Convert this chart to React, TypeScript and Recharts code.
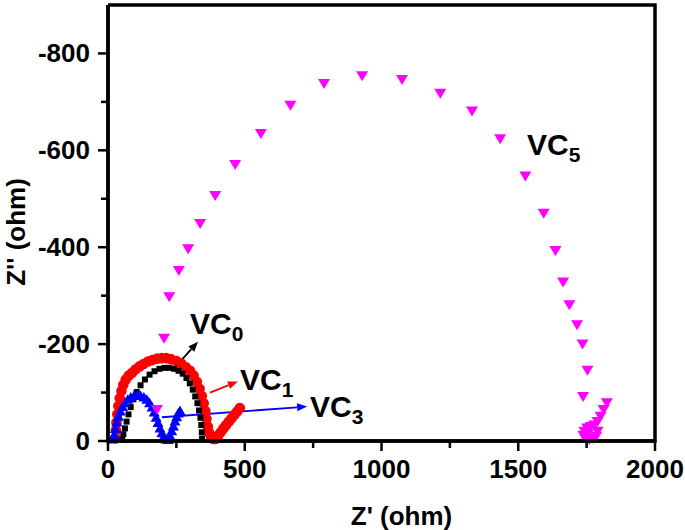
import React from "react";
import {
  ScatterChart,
  Scatter,
  XAxis,
  YAxis,
  ReferenceLine,
  ReferenceDot,
} from "recharts";

const FONT = "'Liberation Sans', Arial, Helvetica, sans-serif";
const MARGIN = { top: 5, right: 30, bottom: 0, left: 0 };

// axis ticks (minor + major)
const xTicks = [0, 250, 500, 750, 1000, 1250, 1500, 1750, 2000];
const yTicks = [-800, -700, -600, -500, -400, -300, -200, -100, 0];
const xRange = [0, 2000];
const yRange = [-900, 0];

// Z' (ohm), Z'' (ohm) pairs
const vc0: [number, number][] = [
  [52, -3], [56, -14], [62, -26], [68, -40], [75, -55], [83, -70], [93, -86],
  [105, -101], [119, -115], [135, -127], [152, -137], [170, -144], [188, -149],
  [206, -151], [224, -151], [242, -149], [258, -145], [273, -139], [287, -130],
  [299, -119], [310, -106], [319, -92], [327, -78], [333, -63], [338, -48],
  [341, -33], [343, -18], [344, -5],
];

const vc1: [number, number][] = [
  [28, -6], [29, -22], [31, -38], [34, -55], [38, -72], [43, -88], [49, -103],
  [56, -116], [65, -127], [76, -135], [88, -141], [101, -148], [115, -154],
  [130, -159], [146, -164], [162, -167], [179, -170], [196, -171], [213, -171],
  [230, -169], [250, -165], [268, -160], [285, -152], [300, -145], [313, -135],
  [325, -122], [335, -108], [343, -93], [350, -78], [356, -62], [360, -46],
  [365, -30], [370, -17], [377, -8], [385, -4], [393, -4], [402, -11],
  [412, -18], [422, -26], [432, -33], [442, -40], [452, -47], [462, -54],
  [472, -61], [482, -68],
];

const vc3: [number, number][] = [
  [15, -3], [22, -12], [27, -25], [32, -38], [38, -50], [45, -61], [53, -70],
  [62, -78], [72, -85], [83, -90], [95, -93], [107, -94], [119, -93],
  [131, -90], [142, -85], [152, -78], [161, -69], [169, -59], [176, -48],
  [183, -37], [190, -26], [197, -16], [204, -8], [212, -3], [220, -2],
  [227, -10], [233, -20], [239, -30], [245, -40], [251, -49], [257, -57],
  [263, -62],
];

const vc5: [number, number][] = [
  [179, -65], [205, -212], [224, -298], [259, -352], [293, -397], [337, -449],
  [392, -507], [465, -571], [559, -635], [667, -693], [790, -738], [929, -754],
  [1075, -746], [1215, -718], [1331, -681], [1434, -624], [1526, -547],
  [1593, -470], [1636, -393], [1664, -328], [1687, -281], [1715, -240],
  [1735, -200], [1753, -146], [1737, -92], [1824, -79], [1812, -65],
  [1801, -51], [1790, -40], [1778, -33], [1765, -30], [1752, -27],
  [1742, -20], [1738, -12], [1745, -6], [1760, -3], [1775, -5], [1785, -10],
  [1790, -20], [1755, -15],
];

// corners of the plot box, walked round once
const frame = [
  { x: xRange[0], y: yRange[0] },
  { x: xRange[1], y: yRange[0] },
  { x: xRange[1], y: yRange[1] },
  { x: xRange[0], y: yRange[1] },
  { x: xRange[0], y: yRange[0] },
];

// annotation arrows: [from, to] in data units
const arrows = [
  { color: "#000000", from: [245, -152], to: [329, -205] },
  { color: "#ff0000", from: [373, -100], to: [475, -123] },
  { color: "#0000ff", from: [197, -49], to: [728, -71] },
];

// curve labels: left/baseline position in data units
const labels = [
  { name: "VC", sub: "0", at: [300, -220] },
  { name: "VC", sub: "1", at: [483, -106] },
  { name: "VC", sub: "3", at: [739, -50] },
  { name: "VC", sub: "5", at: [1532, -590] },
];

const toPoints = (arr: [number, number][]) => arr.map(([x, y]) => ({ x, y }));

function XTick(props: any) {
  const { x, y, payload } = props;
  const major = payload.value % 500 === 0;
  return (
    <g>
      <line x1={x} x2={x} y1={y} y2={y + (major ? 10 : 7)} stroke="#000" strokeWidth={2.5} />
      {major && (
        <text x={x} y={y + 37} textAnchor="middle" fontSize={26} fontWeight="bold" fontFamily={FONT} fill="#000">
          {payload.value}
        </text>
      )}
    </g>
  );
}

function YTick(props: any) {
  const { x, y, payload } = props;
  const major = payload.value % 200 === 0;
  return (
    <g>
      <line x1={x - (major ? 10 : 7)} x2={x} y1={y} y2={y} stroke="#000" strokeWidth={2.5} />
      {major && (
        <text x={x - 18} y={y + 9} textAnchor="end" fontSize={26} fontWeight="bold" fontFamily={FONT} fill="#000">
          {payload.value}
        </text>
      )}
    </g>
  );
}

const square = (p: any) => <rect x={p.cx - 3} y={p.cy - 3} width={6} height={6} fill="#000" />;
const circle = (p: any) => <circle cx={p.cx} cy={p.cy} r={5.3} fill="#ff0000" />;
const triUp = (p: any) => (
  <polygon points={`${p.cx - 5.5},${p.cy + 4} ${p.cx + 5.5},${p.cy + 4} ${p.cx},${p.cy - 5.5}`} fill="#0000ff" />
);
const triDown = (p: any) => (
  <polygon points={`${p.cx - 6},${p.cy - 4.5} ${p.cx + 6},${p.cy - 4.5} ${p.cx},${p.cy + 5.5}`} fill="#ff00ff" />
);
const noDot = () => <g />;

function arrowShape(color: string) {
  return (p: any) => {
    const { x1, y1, x2, y2 } = p;
    const a = Math.atan2(y2 - y1, x2 - x1);
    const len = 10;
    const w = 4;
    const bx = x2 - len * Math.cos(a);
    const by = y2 - len * Math.sin(a);
    const nx = -Math.sin(a) * w;
    const ny = Math.cos(a) * w;
    return (
      <g>
        <line x1={x1} y1={y1} x2={bx} y2={by} stroke={color} strokeWidth={1.8} />
        <polygon points={`${x2},${y2} ${bx + nx},${by + ny} ${bx - nx},${by - ny}`} fill={color} />
      </g>
    );
  };
}

function labelShape(name: string, sub: string) {
  return (p: any) => (
    <text x={p.cx} y={p.cy} fontSize={30} fontWeight="bold" fontFamily={FONT} fill="#000">
      {name}
      <tspan fontSize={21} dy={7}>{sub}</tspan>
    </text>
  );
}

function XTitle(p: any) {
  const vb = p.viewBox;
  return (
    <text x={vb.x + vb.width / 2 + 20} y={vb.y + 84} textAnchor="middle" fontSize={26} fontWeight="bold" fontFamily={FONT} fill="#000">
      Z' (ohm)
    </text>
  );
}

function YTitle(p: any) {
  const vb = p.viewBox;
  const cy = vb.y + vb.height / 2 + 9;
  return (
    <text x={25} y={cy} transform={`rotate(-90 25 ${cy})`} textAnchor="middle" fontSize={26} fontWeight="bold" fontFamily={FONT} fill="#000">
      Z'' (ohm)
    </text>
  );
}

export default function App() {
  return (
    <div style={{ position: "absolute", left: 0, top: 0, width: 685, height: 530, background: "#fff" }}>
      <ScatterChart width={685} height={530} margin={MARGIN}>
        <XAxis
          type="number"
          dataKey="x"
          domain={xRange}
          ticks={xTicks}
          interval={0}
          height={89}
          tickSize={0}
          tickMargin={0}
          axisLine={{ stroke: "#000", strokeWidth: 3.5 }}
          tickLine={false}
          tick={<XTick />}
          label={{ content: XTitle }}
        />
        <YAxis
          type="number"
          dataKey="y"
          domain={yRange}
          reversed
          ticks={yTicks}
          interval={0}
          width={108}
          tickSize={0}
          tickMargin={0}
          axisLine={{ stroke: "#000", strokeWidth: 3.5 }}
          tickLine={false}
          tick={<YTick />}
          label={{ content: YTitle }}
        />
        <Scatter name="VC1" data={toPoints(vc1)} shape={circle} isAnimationActive={false} />
        <Scatter name="VC0" data={toPoints(vc0)} shape={square} isAnimationActive={false} />
        <Scatter name="VC3" data={toPoints(vc3)} shape={triUp} isAnimationActive={false} />
        <Scatter name="VC5" data={toPoints(vc5)} shape={triDown} isAnimationActive={false} />
        <Scatter
          name="frame"
          data={frame}
          shape={noDot}
          line={{ stroke: "#000", strokeWidth: 3.5 }}
          lineType="joint"
          isAnimationActive={false}
        />
        {arrows.map((a, i) => (
          <ReferenceLine
            key={"a" + i}
            segment={[{ x: a.from[0], y: a.from[1] }, { x: a.to[0], y: a.to[1] }]}
            ifOverflow="visible"
            shape={arrowShape(a.color)}
          />
        ))}
        {labels.map((l, i) => (
          <ReferenceDot key={"l" + i} x={l.at[0]} y={l.at[1]} r={1} ifOverflow="visible" shape={labelShape(l.name, l.sub)} />
        ))}
      </ScatterChart>
    </div>
  );
}
